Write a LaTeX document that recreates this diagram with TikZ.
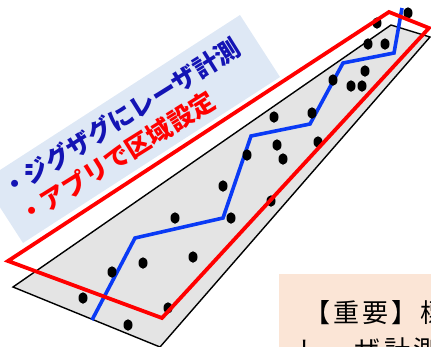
\documentclass[tikz,border=0pt]{standalone}
\usepackage{fontspec}
\newfontfamily\jp{Noto Sans CJK JP}
\newfontfamily\jpwide{Noto Sans CJK JP}[LetterSpace=12]
\definecolor{bannerblue}{HTML}{DEE8F5}
\definecolor{txtblue}{HTML}{1414B4}
\definecolor{zigblue}{HTML}{0A3AF5}
\definecolor{peach}{HTML}{FBE5D6}
\definecolor{plane}{HTML}{E4E4E4}
\usetikzlibrary{shapes.geometric}
\tikzset{
  dot/.style={fill=black, ellipse, inner sep=0pt, minimum width=9pt, minimum height=11.5pt},
  planeedge/.style={draw=black, line width=1.4pt, fill=plane, line join=miter},
  zigzag/.style={draw=zigblue, line width=3.6pt, line join=miter},
  region/.style={draw=red, line width=3.8pt, line join=miter},
  bannertext/.style={font=\jp\bfseries\fontsize{25}{28}\selectfont, inner sep=0pt, rotate=32, anchor=west},
  notetext/.style={font=\jpwide\fontsize{26}{30}\selectfont, inner sep=0pt, anchor=base west}
}
\begin{document}
\begin{tikzpicture}[x=1pt,y=-1pt]
\useasboundingbox (0,0) rectangle (431,346);
\clip (0,0) rectangle (431,346);
% banner
\fill[bannerblue] (240,15) -- (280,77) -- (23,243) -- (-17,181) -- cycle;
\node[bannertext, text=txtblue] (l1) at (4.4,190.6) {・ジグザグにレーザ計測};
\node[bannertext, text=red] (l2) at (21.4,217.6) {・アプリで区域設定};
% plane
\path[planeedge] (13,287) -- (391,25) -- (430,37) -- (160,347) -- cycle;
% zigzag path
\coordinate (z0) at (92,320);
\coordinate (z1) at (135,238);
\coordinate (z2) at (223,218);
\coordinate (z3) at (251,136);
\coordinate (z4) at (310,124);
\coordinate (z5) at (343,63);
\coordinate (z6) at (394,53);
\coordinate (z7) at (402,8);
\draw[zigzag] (z0) -- (z1) -- (z2) -- (z3) -- (z4) -- (z5) -- (z6) -- (z7);
% dots
\foreach \x/\y [count=\i] in {408/13, 377/23, 368/44, 385/44, 365/71, 351/86, 362/86, 333/80,
  274/117, 312/113, 277/145, 318/142, 283/159, 247/155, 223/186, 231/218, 271/201,
  175/218, 193/257, 143/263, 112/272, 83/298, 168/308, 128/325}
  \node[dot] (d\i) at (\x,\y) {};
% region
\draw[region] (8,261) -- (389,12) -- (429,28) -- (162,318) -- cycle;
% note box
\fill[peach] (279,274) rectangle (440,360);
\node[notetext] (n1) at (304,322) {【重要】標};
\node[notetext] (n2) at (297,359) {レーザ計測};
\end{tikzpicture}
\end{document}
